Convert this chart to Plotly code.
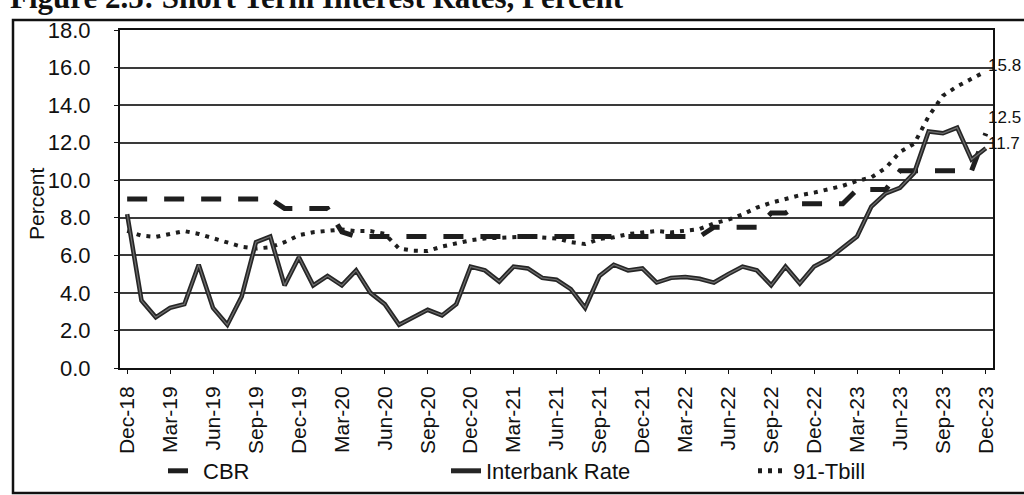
import pandas as pd
import plotly.graph_objects as go

# Monthly categories, Dec-18 .. Dec-23
months = list(pd.date_range("2018-12-01", periods=61, freq="MS").strftime("%b-%y"))
tick_labels = months[::3]

cbr = [9.0, 9.0, 9.0, 9.0, 9.0, 9.0, 9.0, 9.0, 9.0, 9.0, 9.0, 8.5,
       8.5, 8.5, 8.5, 7.25, 7.0, 7.0, 7.0, 7.0, 7.0, 7.0, 7.0, 7.0,
       7.0, 7.0, 7.0, 7.0, 7.0, 7.0, 7.0, 7.0, 7.0, 7.0, 7.0, 7.0,
       7.0, 7.0, 7.0, 7.0, 7.0, 7.5, 7.5, 7.5, 7.5, 8.25, 8.25, 8.75,
       8.75, 8.75, 8.75, 9.5, 9.5, 9.5, 10.5, 10.5, 10.5, 10.5, 10.5, 10.5,
       12.5]

interbank = [8.2, 3.6, 2.7, 3.2, 3.4, 5.5, 3.2, 2.3, 3.8, 6.7, 7.0, 4.4,
             5.9, 4.4, 4.9, 4.4, 5.2, 4.0, 3.4, 2.3, 2.7, 3.1, 2.8, 3.4,
             5.4, 5.2, 4.6, 5.4, 5.3, 4.8, 4.7, 4.2, 3.2, 4.9, 5.5, 5.2,
             5.3, 4.55, 4.8, 4.85, 4.75, 4.55, 5.0, 5.4, 5.2, 4.4, 5.4, 4.5,
             5.4, 5.8, 6.4, 7.0, 8.6, 9.3, 9.6, 10.4, 12.6, 12.5, 12.8, 11.1,
             11.7]

tbill91 = [7.3, 7.05, 6.98, 7.14, 7.29, 7.14, 6.9, 6.66, 6.46, 6.36, 6.43, 6.7,
           7.07, 7.23, 7.29, 7.38, 7.29, 7.29, 7.14, 6.36, 6.25, 6.23, 6.47, 6.64,
           6.8, 6.9, 6.95, 6.95, 7.0, 6.95, 6.9, 6.7, 6.6, 6.87, 6.96, 7.13,
           7.22, 7.3, 7.22, 7.3, 7.4, 7.7, 7.9, 8.18, 8.54, 8.8, 9.0, 9.2,
           9.34, 9.52, 9.7, 9.96, 10.15, 10.65, 11.5, 11.95, 13.4, 14.5, 15.0, 15.4,
           15.8]

# Plot area in pixels
W, H = 1024, 495
L, R, T, B = 120, 31, 30, 127
PW, PH = W - L - R, H - T - B


def px_x(px):
    return (px - L) / PW


def px_y(py):
    return (H - B - py) / PH


FONT = "Liberation Sans, Arial, sans-serif"
INK = "#1e1e1e"

fig = go.Figure()

fig.add_trace(go.Scatter(
    x=months, y=cbr, name="CBR", mode="lines", legend="legend",
    line=dict(color=INK, width=5, dash="20px,17px")))

fig.add_trace(go.Scatter(
    x=months, y=tbill91, name="91-Tbill", mode="lines", legend="legend3",
    line=dict(color=INK, width=4, dash="4px,6px")))

fig.add_trace(go.Scatter(
    x=months, y=interbank, name="Interbank Rate", mode="lines", legend="legend2",
    line=dict(color="#262626", width=4.5)))
fig.add_trace(go.Scatter(
    x=months, y=interbank, mode="lines", showlegend=False, hoverinfo="skip",
    line=dict(color="#707070", width=1.2)))

# Values printed at the end of each series
end_labels = [(tbill91[-1], 6), (cbr[-1], 16), (interbank[-1], 5)]
for val, shift in end_labels:
    fig.add_annotation(x=len(months) - 1, y=val, xref="x", yref="y",
                       text=f"{val:.1f}", showarrow=False, xanchor="left",
                       yanchor="middle", xshift=1, yshift=shift,
                       borderpad=0,
                       font=dict(family=FONT, size=17, color="#111"))

# Figure heading (top edge cropped)
fig.add_annotation(x=px_x(8), y=px_y(-2), xref="paper", yref="paper",
                   text="<b>Figure 2.5: Short Term Interest Rates, Percent</b>",
                   showarrow=False, xanchor="left", yanchor="middle",
                   font=dict(family="Liberation Serif, Times New Roman, serif",
                             size=31, color="#111"))

# Axis title
fig.add_annotation(x=px_x(36), y=px_y(204), xref="paper", yref="paper",
                   text="Percent", textangle=-90, showarrow=False,
                   xanchor="center", yanchor="middle",
                   font=dict(family=FONT, size=21, color="#111"))

# Outer frame around the chart
fig.add_shape(type="rect", xref="paper", yref="paper",
              x0=px_x(13), x1=px_x(1034), y0=px_y(493), y1=px_y(20),
              line=dict(color="#111", width=2.5), layer="below")

legend_style = dict(orientation="h", y=px_y(471), xanchor="left", yanchor="middle",
                    font=dict(family=FONT, size=22, color="#111"),
                    bgcolor="rgba(0,0,0,0)", itemsizing="constant")

fig.update_layout(
    width=W, height=H,
    margin=dict(l=L, r=R, t=T, b=B, pad=0, autoexpand=False),
    paper_bgcolor="white", plot_bgcolor="white",
    font=dict(family=FONT, size=21, color="#111"),
    showlegend=True,
    legend=dict(x=px_x(163), **legend_style),
    legend2=dict(x=px_x(446), **legend_style),
    legend3=dict(x=px_x(753), **legend_style),
)

fig.update_xaxes(
    type="category", range=[-0.5, len(months) - 0.5],
    tickmode="array", tickvals=tick_labels, ticktext=tick_labels,
    tickangle=-90, ticks="outside", ticklen=4, tickcolor="#111",
    showgrid=False, showline=True, linecolor="#111", linewidth=2,
    mirror=True, zeroline=False, ticklabelstandoff=4, automargin=False,
    tickfont=dict(family=FONT, size=21, color="#111"))

fig.update_yaxes(
    range=[0, 18], dtick=2, tickformat=".1f",
    ticks="outside", ticklen=4, tickcolor="#111",
    showgrid=True, gridcolor="#3a3a3a", gridwidth=1.5,
    showline=True, linecolor="#111", linewidth=2, mirror=True,
    zeroline=False, ticklabelstandoff=19, automargin=False,
    tickfont=dict(family=FONT, size=22, color="#111"))

fig.write_html("out.html")
